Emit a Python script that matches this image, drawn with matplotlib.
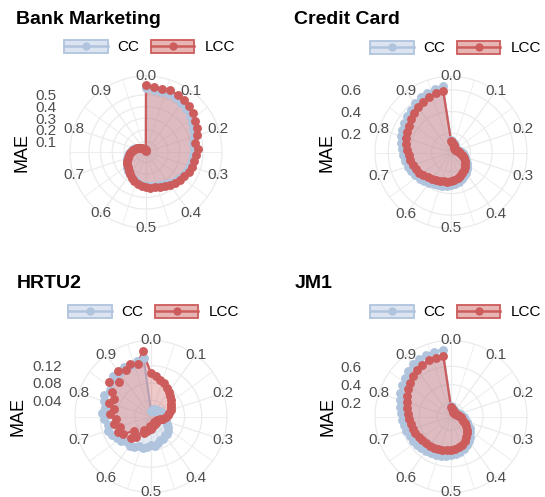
import numpy as np
import matplotlib
matplotlib.use('Agg')
import matplotlib.pyplot as plt
from matplotlib.patches import Patch
from matplotlib.lines import Line2D
from matplotlib.colors import to_rgba

plt.rcParams['font.family'] = ['Liberation Sans', 'DejaVu Sans']

W, H = 545, 497

threshold = [0.00, 0.02, 0.04, 0.06, 0.08, 0.10, 0.12, 0.14, 0.16, 0.18,
             0.20, 0.22, 0.24, 0.26, 0.28, 0.30, 0.32, 0.34, 0.36, 0.38,
             0.40, 0.42, 0.44, 0.46, 0.48, 0.50, 0.52, 0.54, 0.56, 0.58,
             0.60, 0.62, 0.64, 0.66, 0.68, 0.70, 0.72, 0.74, 0.76, 0.78,
             0.80, 0.82, 0.84, 0.86, 0.88, 0.90, 0.92, 0.94, 0.96, 0.98]

# MAE per threshold
bank_cc = [0.560, 0.545, 0.540, 0.545, 0.540, 0.525, 0.515, 0.500, 0.478, 0.460,
           0.440, 0.420, 0.425, 0.415, 0.410, 0.405, 0.398, 0.385, 0.372, 0.358,
           0.342, 0.328, 0.318, 0.310, 0.305, 0.300, 0.294, 0.285, 0.272, 0.258,
           0.245, 0.232, 0.220, 0.208, 0.195, 0.182, 0.168, 0.155, 0.140, 0.125,
           0.110, 0.096, 0.082, 0.068, 0.056, 0.046, 0.038, 0.031, 0.025, 0.021]
bank_lcc = [0.585, 0.575, 0.570, 0.578, 0.572, 0.560, 0.548, 0.530, 0.505, 0.490,
            0.470, 0.440, 0.455, 0.440, 0.430, 0.428, 0.418, 0.400, 0.388, 0.372,
            0.355, 0.340, 0.330, 0.322, 0.318, 0.312, 0.305, 0.295, 0.280, 0.262,
            0.245, 0.228, 0.213, 0.200, 0.186, 0.172, 0.158, 0.145, 0.133, 0.120,
            0.106, 0.095, 0.080, 0.066, 0.055, 0.045, 0.036, 0.030, 0.024, 0.020]

credit_cc = [0.140, 0.128, 0.115, 0.103, 0.094, 0.086, 0.080, 0.077, 0.077, 0.081,
             0.090, 0.101, 0.114, 0.128, 0.142, 0.158, 0.175, 0.195, 0.215, 0.235,
             0.253, 0.272, 0.288, 0.302, 0.314, 0.323, 0.332, 0.338, 0.345, 0.355,
             0.368, 0.383, 0.398, 0.412, 0.426, 0.440, 0.452, 0.462, 0.474, 0.490,
             0.505, 0.518, 0.533, 0.548, 0.565, 0.585, 0.602, 0.615, 0.628, 0.642]
credit_lcc = [0.130, 0.118, 0.105, 0.092, 0.082, 0.074, 0.068, 0.065, 0.064, 0.068,
              0.075, 0.085, 0.096, 0.108, 0.120, 0.135, 0.150, 0.168, 0.187, 0.205,
              0.222, 0.240, 0.255, 0.268, 0.278, 0.286, 0.292, 0.296, 0.302, 0.310,
              0.322, 0.336, 0.352, 0.366, 0.380, 0.392, 0.402, 0.412, 0.425, 0.440,
              0.455, 0.470, 0.485, 0.500, 0.518, 0.540, 0.558, 0.572, 0.585, 0.598]

hrtu2_cc = [0.014, 0.016, 0.020, 0.017, 0.022, 0.019, 0.024, 0.020, 0.026, 0.022,
            0.028, 0.025, 0.030, 0.034, 0.030, 0.038, 0.044, 0.048, 0.054, 0.058,
            0.056, 0.062, 0.060, 0.066, 0.070, 0.068, 0.074, 0.078, 0.076, 0.082,
            0.086, 0.084, 0.092, 0.096, 0.102, 0.108, 0.104, 0.112, 0.115, 0.110,
            0.118, 0.122, 0.116, 0.126, 0.130, 0.128, 0.134, 0.130, 0.136, 0.138]
hrtu2_lcc = [0.102, 0.096, 0.090, 0.085, 0.078, 0.072, 0.066, 0.062, 0.058, 0.054,
             0.050, 0.045, 0.041, 0.036, 0.030, 0.024, 0.020, 0.018, 0.017, 0.018,
             0.020, 0.017, 0.022, 0.020, 0.026, 0.030, 0.024, 0.036, 0.044, 0.038,
             0.062, 0.070, 0.054, 0.080, 0.086, 0.078, 0.090, 0.084, 0.098, 0.090,
             0.104, 0.096, 0.110, 0.128, 0.112, 0.134, 0.124, 0.133, 0.128, 0.155]

jm1_cc = [0.165, 0.152, 0.140, 0.132, 0.127, 0.124, 0.123, 0.126, 0.131, 0.139,
          0.149, 0.161, 0.175, 0.191, 0.209, 0.231, 0.259, 0.291, 0.322, 0.352,
          0.382, 0.410, 0.435, 0.452, 0.466, 0.477, 0.485, 0.492, 0.499, 0.507,
          0.515, 0.524, 0.532, 0.541, 0.552, 0.563, 0.574, 0.586, 0.600, 0.617,
          0.638, 0.663, 0.686, 0.710, 0.735, 0.760, 0.772, 0.780, 0.785, 0.788]
jm1_lcc = [0.150, 0.135, 0.122, 0.112, 0.106, 0.102, 0.100, 0.102, 0.106, 0.112,
           0.120, 0.130, 0.142, 0.156, 0.172, 0.192, 0.218, 0.248, 0.276, 0.305,
           0.333, 0.358, 0.380, 0.395, 0.406, 0.415, 0.421, 0.427, 0.432, 0.440,
           0.447, 0.455, 0.462, 0.470, 0.480, 0.490, 0.500, 0.512, 0.525, 0.540,
           0.560, 0.585, 0.606, 0.630, 0.655, 0.682, 0.700, 0.710, 0.716, 0.722]

theta_breaks = [0.0, 0.1, 0.2, 0.3, 0.4, 0.5, 0.6, 0.7, 0.8, 0.9]
theta_labels = ['0.0', '0.1', '0.2', '0.3', '0.4', '0.5', '0.6', '0.7', '0.8', '0.9']
theta_minor = [0.05, 0.15, 0.25, 0.35, 0.45, 0.55, 0.65, 0.75, 0.85, 0.95]

series_names = ['CC', 'LCC']
colors = {'CC': '#B0C4DE', 'LCC': '#CD5C5C'}

# layout in pixels (x from left, y from top)
panels = [
    dict(title='Bank Marketing', cc=bank_cc, lcc=bank_lcc, rlim=(0.01, 0.59),
         rbreaks=[0.1, 0.2, 0.3, 0.4, 0.5], rlabels=['0.1', '0.2', '0.3', '0.4', '0.5'],
         center=(146, 152), title_xy=(16, 20), leg_xy=(64, 47), mae_xy=(22.5, 153)),
    dict(title='Credit Card', cc=credit_cc, lcc=credit_lcc, rlim=(0.02, 0.645),
         rbreaks=[0.2, 0.4, 0.6], rlabels=['0.2', '0.4', '0.6'],
         center=(451, 152.5), title_xy=(294, 20), leg_xy=(370, 48), mae_xy=(327, 153)),
    dict(title='HRTU2', cc=hrtu2_cc, lcc=hrtu2_lcc, rlim=(0.002, 0.159),
         rbreaks=[0.04, 0.08, 0.12], rlabels=['0.04', '0.08', '0.12'],
         center=(151, 416.5), title_xy=(17, 284), leg_xy=(68, 312), mae_xy=(17.5, 417)),
    dict(title='JM1', cc=jm1_cc, lcc=jm1_lcc, rlim=(0.05, 0.79),
         rbreaks=[0.2, 0.4, 0.6], rlabels=['0.2', '0.4', '0.6'],
         center=(451, 416.5), title_xy=(295, 284), leg_xy=(370, 312), mae_xy=(327.5, 417)),
]

grid_col = '#EBEBEB'
text_col = '#4D4D4D'
alpha = 0.33
ms = 6.4

fig = plt.figure(figsize=(W / 100, H / 100), dpi=100)

for p in panels:
    cx, cy = p['center']
    rmin, rmax = p['rlim']
    span = rmax - rmin
    half = 84.45

    # radial axis on the left, same scale as the polar panel
    axr = fig.add_axes([(cx - half) / W, 1 - (cy + half) / H, 2 * half / W, 2 * half / H])
    axr.set_ylim(rmin - 1.25 * span, rmin + 1.25 * span)
    axr.set_yticks(p['rbreaks'], p['rlabels'])
    axr.set_xticks([])
    for s in axr.spines.values():
        s.set_visible(False)
    axr.patch.set_alpha(0)
    axr.tick_params(axis='y', length=0, pad=3.3, labelsize=11, labelcolor=text_col)

    rad = 76
    router = rmin + 1.125 * span
    ax = fig.add_axes([(cx - rad) / W, 1 - (cy + rad) / H, 2 * rad / W, 2 * rad / H],
                      projection='polar')
    ax.set_theta_zero_location('N')
    ax.set_theta_direction(-1)
    ax.set_rlim(rmin, router)
    ax.set_facecolor('none')
    ax.set_axisbelow(True)
    ax.set_xticks(2 * np.pi * np.array(theta_breaks))
    ax.set_xticklabels([])
    ax.set_xticks(2 * np.pi * np.array(theta_minor), minor=True)
    ax.set_yticks(p['rbreaks'])
    ax.set_yticklabels([])
    ax.xaxis.grid(True, which='major', color=grid_col, lw=0.9)
    ax.xaxis.grid(True, which='minor', color=grid_col, lw=0.6)
    ax.yaxis.grid(True, color=grid_col, lw=0.9)
    ax.tick_params(axis='x', which='both', length=0)
    ax.spines['polar'].set_color(grid_col)
    ax.spines['polar'].set_linewidth(0.9)
    # theta labels sit centred on the outer circle
    for tb, tl in zip(theta_breaks, theta_labels):
        ax.text(2 * np.pi * tb, router, tl, ha='center', va='center', fontsize=11,
                color=text_col, clip_on=False, zorder=5)

    theta = 2 * np.pi * np.array(threshold)
    data = {'CC': p['cc'], 'LCC': p['lcc']}
    for name in series_names:
        c = colors[name]
        ax.fill(theta, data[name], facecolor=to_rgba(c, alpha), edgecolor=c, lw=1.6, zorder=2)
    for name in series_names:
        ax.plot(theta, data[name], 'o', ms=ms, color=colors[name], mew=0, zorder=3)

    handles = []
    for name in series_names:
        c = colors[name]
        handles.append((Patch(facecolor=to_rgba(c, 0.45), edgecolor=c, lw=1.3),
                        Line2D([], [], color=c, lw=1.8, marker='o', ms=6, mew=0)))
    lx, ly = p['leg_xy']
    fig.legend(handles, series_names, loc='center left', bbox_to_anchor=(lx / W, 1 - ly / H),
               ncol=2, frameon=False, fontsize=11, handlelength=2.85, handleheight=0.95,
               handletextpad=0.65, columnspacing=0.75, borderpad=0, borderaxespad=0)

    tx, ty = p['title_xy']
    fig.text(tx / W, 1 - ty / H, p['title'], fontsize=14, fontweight='bold', ha='left', va='center')
    mx, my = p['mae_xy']
    fig.text(mx / W, 1 - my / H, 'MAE', fontsize=13, rotation=90, ha='center', va='center')

fig.savefig('out.png', dpi=100)
